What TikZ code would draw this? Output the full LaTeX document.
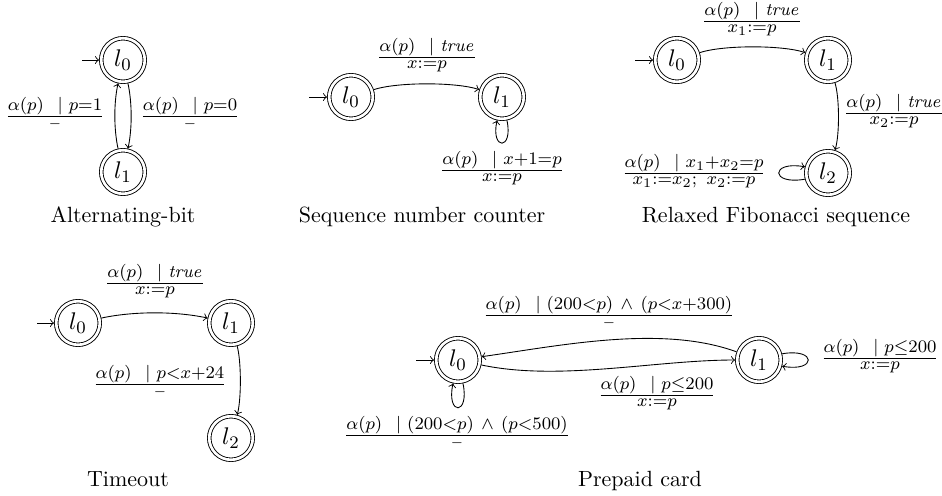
\documentclass[tikz,border=0pt]{standalone}
\newcommand\elab[2]{$\frac{\textstyle #1}{#2}$}
\newcommand\apx{\alpha(p)\hspace{6.3pt}|\hspace{2.7pt}}
\newcommand\dsh{\scriptstyle -}
\newcommand\andop{\hspace{1.5pt}\wedge\hspace{1.5pt}}
\begin{document}
\begin{tikzpicture}[x=0.4545pt,y=-0.4545pt,>=to,
  state/.style={circle, draw, double, double distance=1.2pt, minimum size=19.8pt,
    inner sep=0pt, outer sep=1pt, font=\fontsize{11}{13}\selectfont},
  lab/.style={anchor=base, inner sep=0pt, font=\fontsize{8.5}{10}\selectfont},
  captxt/.style={anchor=base, inner sep=0pt, font=\fontsize{10}{12}\selectfont},
  tr/.style={->, line width=0.4pt}]
\useasboundingbox (0,0) rectangle (942,496);
\fill[white] (0,0) rectangle (942,496);

% ---------- Alternating-bit ----------
\node[state] (a0) at (123,60) {$l_0$};
\node[state] (a1) at (123,172) {$l_1$};
\coordinate (ai) at (82,60);
\draw[tr] (ai) -- (a0);
\draw[tr] (a0) to[bend left=12, looseness=0.8] (a1);
\draw[tr] (a1) to[bend left=12, looseness=0.8] (a0);
\node[lab] (al) at (55,120.7) {\elab{\apx p{=}1}{\dsh}};
\node[lab] (ar) at (190,120.7) {\elab{\apx p{=}0}{\dsh}};
\node[captxt] (ac) at (123,222.5) {Alternating-bit};

% ---------- Sequence number counter ----------
\node[state] (s0) at (351,97) {$l_0$};
\node[state] (s1) at (502,97) {$l_1$};
\coordinate (si) at (309,97);
\draw[tr] (si) -- (s0);
\draw[tr] (s0) to[bend left=18, looseness=0.6] (s1);
\draw[tr] (s1.-78) .. controls +(-78:14pt) and +(-102:14pt) .. (s1.-102);
\node[lab] (st) at (427,61.7) {\elab{\apx \mathit{true}}{\textstyle x{:=}p}};
\node[lab] (sb) at (502,174.7) {\elab{\apx x{+}1{=}p}{\textstyle x{:=}p}};
\node[captxt] (sc) at (422,222.5) {Sequence number counter};

% ---------- Relaxed Fibonacci sequence ----------
\node[state] (f0) at (677,60) {$l_0$};
\node[state] (f1) at (828,60) {$l_1$};
\node[state] (f2) at (828,173) {$l_2$};
\coordinate (fi) at (635,60);
\draw[tr] (fi) -- (f0);
\draw[tr] (f0) to[bend left=18, looseness=0.6] (f1);
\draw[tr] (f1) to[bend left=17, looseness=0.6] (f2);
\draw[tr] (f2.195) .. controls +(190:16pt) and +(170:16pt) .. (f2.165);
\node[lab] (ft) at (752,25.7) {\elab{\apx \mathit{true}}{\textstyle x_1{:=}p}};
\node[lab] (fr) at (894,117.7) {\elab{\apx \mathit{true}}{\textstyle x_2{:=}p}};
\node[lab] (fl) at (694,177.7) {\elab{\apx x_1{+}x_2{=}p}{\textstyle x_1{:=}x_2;\ x_2{:=}p}};
\node[captxt] (fc) at (776,222.5) {Relaxed Fibonacci sequence};

% ---------- Timeout ----------
\node[state] (t0) at (78,323) {$l_0$};
\node[state] (t1) at (231,323) {$l_1$};
\node[state] (t2) at (231,438) {$l_2$};
\coordinate (ti) at (37,323);
\draw[tr] (ti) -- (t0);
\draw[tr] (t0) to[bend left=12, looseness=0.8] (t1);
\draw[tr] (t1) to[bend left=15, looseness=0.6] (t2);
\node[lab] (tt) at (155,287.7) {\elab{\apx \mathit{true}}{\textstyle x{:=}p}};
\node[lab] (tm) at (160,388.7) {\elab{\apx p{<}x{+}24}{\dsh}};
\node[captxt] (tc) at (128,486) {Timeout};

% ---------- Prepaid card ----------
\node[state] (p0) at (458,360) {$l_0$};
\node[state] (p1) at (759,360) {$l_1$};
\coordinate (pi) at (416,360);
\draw[tr] (pi) -- (p0);
\draw[tr] (p1) to[out=160, in=8, looseness=0.8] (p0);
\draw[tr] (p0) to[out=-12, in=180, looseness=0.8] (p1);
\draw[tr] (p0.-78) .. controls +(-78:15pt) and +(-102:15pt) .. (p0.-102);
\draw[tr] (p1.15) .. controls +(10:16pt) and +(-10:16pt) .. (p1.-15);
\node[lab] (pt) at (609,319.7) {\elab{\apx (200{<}p)\andop(p{<}x{+}300)}{\dsh}};
\node[lab] (pb) at (657,399.7) {\elab{\apx p{\leq}200}{\textstyle x{:=}p}};
\node[lab] (pl) at (457,439.7) {\elab{\apx (200{<}p)\andop(p{<}500)}{\dsh}};
\node[lab] (pr) at (880,362.7) {\elab{\apx p{\leq}200}{\textstyle x{:=}p}};
\node[captxt] (pc) at (640,486) {Prepaid card};
\end{tikzpicture}
\end{document}
